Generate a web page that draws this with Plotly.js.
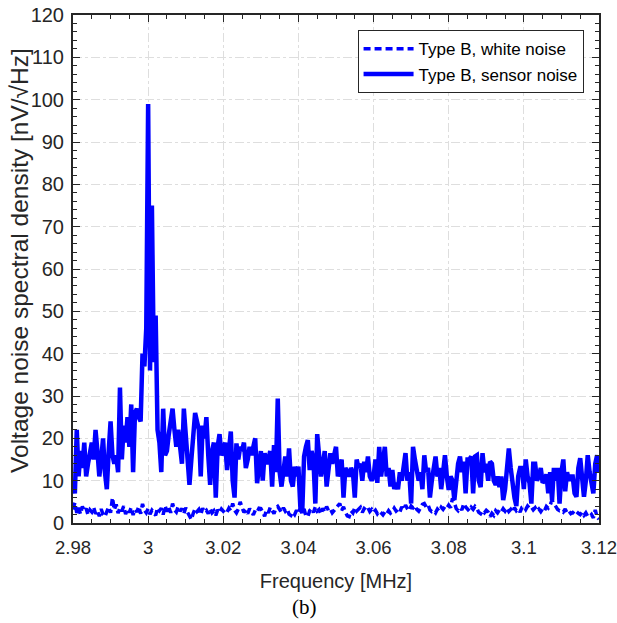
<!DOCTYPE html>
<html>
<head>
<meta charset="utf-8">
<script src="https://cdn.plot.ly/plotly-3.0.1.min.js"></script>
<style>html,body{margin:0;padding:0;background:#fff;}#chart{width:617px;height:623px;}</style>
</head>
<body>
<div id="chart"></div>
<script>
// Frequency grid (MHz)
var fStart = 2.98;
var fStep = 0.0005;

// Type B, sensor noise [nV/sqrt(Hz)]
var sensorNoise = [
  10, 7, 22, 11, 17, 13, 19, 11, 14, 16,
  19, 15, 22, 17, 11, 15, 20, 12, 8, 17,
  24, 16, 14, 16, 12, 32, 15, 23, 19, 25,
  18, 28, 12, 26, 27, 25, 24, 40, 37, 46,
  99, 36, 75, 38, 49, 22, 19, 12, 27, 16,
  17, 21, 24, 27, 22, 18, 22, 17, 14, 27,
  20, 15, 9, 15, 20, 26, 24, 22, 11, 23,
  20, 25, 16, 9, 17, 19, 6, 18, 21, 16,
  17, 19, 12.5, 16, 21.6, 10, 6, 18.8, 15, 18,
  17, 19, 13, 15, 18, 16, 18, 20, 9.4, 14,
  17, 10, 16.5, 14, 15, 17, 8.6, 18.4, 12, 29.4,
  12, 8.6, 13.3, 15.7, 11, 17.6, 10, 8.6, 13.3, 11,
  13.3, 3.9, 2.3, 15.7, 18, 19.6, 12.5, 17, 14.8, 4.6,
  21, 14, 11, 14, 17, 8.6, 12.5, 16.5, 14, 16.5,
  18, 11, 13, 15, 6, 13, 12, 11, 13, 12,
  6, 15, 13, 14, 10, 14.5, 12, 15.7, 11, 10,
  11, 15, 9.5, 18, 11, 14, 18, 11, 13, 8.6,
  12.5, 8, 9.5, 8, 12, 10, 14, 16.5, 10, 12,
  4.6, 18, 15, 12, 10, 12, 8, 16, 12, 13,
  6, 10, 13, 15.7, 11, 13, 8, 13, 16, 11,
  7.8, 11, 10, 5.4, 10, 14, 15.7, 12, 14.5, 7,
  15, 15, 15.7, 7, 15.7, 16, 10, 8.5, 16.5, 12,
  14, 10, 14.5, 14, 10, 9, 11, 8.5, 11, 5.4,
  8, 14, 17.6, 13, 8, 6, 4, 11, 13, 13,
  8, 15, 11, 9.5, 4.6, 14, 14, 10, 11, 13,
  9.5, 10, 11.5, 7, 12, 5.4, 13, 10, 13, 4.6,
  12, 15, 7.5, 12, 10, 11, 11, 7, 6.2, 13,
  15.3, 11, 6.2, 10, 16, 12, 9, 7, 14, 16, 12
];

// Type B, white noise [nV/sqrt(Hz)]
var whiteNoise = [
  3.2, 4.8, 2.4, 3.6, 2.1, 3.9, 2.8, 3.4, 1.9, 3.1,
  2.6, 3.7, 2.2, 2.9, 1.6, 3.3, 2.0, 1.5, 2.7, 3.8,
  2.4, 6.0, 3.1, 4.4, 2.3, 3.6, 2.8, 4.0, 2.1, 3.3,
  2.5, 3.7, 1.9, 3.2, 2.6, 3.9, 2.2, 4.5, 3.0, 2.4,
  3.4, 2.1, 3.0, 2.5, 1.8, 3.6, 2.9, 3.5, 2.0, 4.1,
  2.7, 3.8, 2.4, 4.6, 3.1, 2.6, 3.9, 2.8, 3.4, 2.2,
  3.6, 2.5, 1.5, 0.8, 2.3, 3.4, 2.7, 3.2, 2.0, 3.5,
  2.6, 3.0, 2.2, 3.4, 2.4, 2.9, 1.8, 3.1, 2.5, 3.3,
  2.8, 3.2, 2.6, 3.5, 2.9, 4.6, 3.0, 2.4, 3.3, 5.0,
  3.6, 2.5, 3.1, 2.2, 3.4, 2.8, 1.9, 3.0, 2.6, 3.5,
  3.4, 2.6, 1.6, 3.1, 2.4, 3.7, 2.9, 2.2, 3.5, 3.9,
  3.2, 2.5, 3.6, 2.8, 3.3, 2.1, 1.8, 2.6, 2.0, 3.0,
  2.3, 3.6, 2.7, 3.3, 1.6, 1.5, 2.9, 3.4, 2.5, 3.8,
  2.8, 3.2, 2.1, 3.5, 2.6, 3.9, 2.9, 3.3, 2.4, 3.0,
  3.3, 4.2, 4.6, 3.0, 3.8, 2.6, 1.7, 1.5, 2.9, 2.4,
  3.6, 2.8, 3.3, 3.7, 2.5, 3.4, 3.0, 3.6, 2.7, 3.2,
  2.5, 3.0, 2.2, 2.8, 2.4, 1.9, 2.6, 2.1, 2.9, 2.3,
  2.7, 3.5, 2.8, 3.2, 2.6, 3.8, 3.1, 4.2, 3.4, 2.9,
  4.0, 3.6, 4.1, 3.2, 2.8, 3.5, 4.4, 4.6, 3.8, 4.3,
  3.1, 2.7, 2.9, 2.4, 3.3, 2.8, 3.7, 3.2, 3.9, 3.5,
  4.2, 3.6, 5.8, 4.8, 3.4, 2.9, 3.6, 3.1, 4.6, 3.8,
  3.3, 2.8, 3.7, 3.2, 3.9, 3.4, 2.5, 2.2, 2.9, 2.4,
  3.0, 2.6, 1.5, 2.3, 1.8, 2.9, 2.4, 3.1, 2.6, 3.4,
  2.8, 3.5, 2.7, 3.2, 2.5, 3.6, 2.9, 3.3, 2.6, 3.7,
  3.9, 3.2, 4.0, 3.5, 3.8, 3.1, 3.6, 2.8, 3.3, 2.7,
  3.4, 2.9, 3.9, 3.5, 4.2, 5.4, 4.6, 3.8, 3.2, 2.9,
  3.0, 2.6, 3.3, 2.4, 2.8, 2.2, 2.5, 2.1, 2.7, 2.3,
  2.0, 2.6, 1.8, 2.4, 1.6, 1.5, 2.0, 1.2, 3.1, 1.4, 0.9
];

var xTickVals = [2.98, 3.00, 3.02, 3.04, 3.06, 3.08, 3.10, 3.12];
var xTickText = ['2.98', '3', '3.02', '3.04', '3.06', '3.08', '3.1', '3.12'];
var yTickVals = [0, 10, 20, 30, 40, 50, 60, 70, 80, 90, 100, 110, 120];

var freqW = whiteNoise.map(function(_, i){ return +(fStart + i*fStep).toFixed(5); });
var freqS = sensorNoise.map(function(_, i){ return +(fStart + i*fStep).toFixed(5); });

var SANS = '"Liberation Sans", Arial, Helvetica, sans-serif';
var INK = '#262626';

var traces = [
  {x: freqW, y: whiteNoise, type: 'scatter', mode: 'lines', name: 'Type B, white noise',
   line: {color: '#0000ff', width: 3.5, dash: '7px,4px'}},
  {x: freqS, y: sensorNoise, type: 'scatter', mode: 'lines', name: 'Type B, sensor noise',
   line: {color: '#0000ff', width: 4.5}}
];

var axisCommon = {
  showline: true, linecolor: INK, linewidth: 2, mirror: 'allticks',
  ticks: 'inside', ticklen: 7, tickwidth: 1, tickcolor: INK,
  showgrid: true, gridcolor: '#dedede', gridwidth: 1, griddash: 'dashdot',
  zeroline: false, ticklabeloverflow: 'allow'
};

var layout = {
  width: 617, height: 623,
  margin: {l: 73, r: 18, t: 15, b: 100},
  paper_bgcolor: '#ffffff', plot_bgcolor: '#ffffff',
  showlegend: true,
  xaxis: Object.assign({}, axisCommon, {
    range: [2.98, 3.12], tickmode: 'array', tickvals: xTickVals, ticktext: xTickText,
    ticklabelstandoff: 7,
    tickfont: {family: SANS, size: 18.5, color: INK},
    minor: {tick0: 2.98, dtick: 0.005, ticks: 'inside', ticklen: 4, tickcolor: INK, showgrid: false},
    title: {text: 'Frequency [MHz]', font: {family: SANS, size: 20, color: INK}, standoff: 17}
  }),
  yaxis: Object.assign({}, axisCommon, {
    range: [0, 120], tickmode: 'array', tickvals: yTickVals,
    ticklabelstandoff: 3,
    tickfont: {family: SANS, size: 20, color: INK},
    minor: {tick0: 0, dtick: 2, ticks: 'inside', ticklen: 4, tickcolor: INK, showgrid: false}
  }),
  legend: {
    x: 0.541, y: 0.97, xanchor: 'left', yanchor: 'top',
    bgcolor: '#ffffff', bordercolor: INK, borderwidth: 1,
    font: {family: SANS, size: 17, color: '#000000'},
    tracegroupgap: 0, itemwidth: 50
  },
  annotations: [
    {text: 'Voltage noise spectral density [nV/\u221AHz]', xref: 'paper', yref: 'paper',
     x: -0.1006, y: 0.516, xanchor: 'center', yanchor: 'middle', textangle: -90,
     showarrow: false, font: {family: SANS, size: 24.5, color: INK}},
    {text: '(b)', xref: 'paper', yref: 'paper', x: 0.44, y: -0.165, xanchor: 'center', yanchor: 'middle',
     showarrow: false, font: {family: '"Liberation Serif", "Times New Roman", serif', size: 21, color: '#000000'}}
  ]
};

Plotly.newPlot('chart', traces, layout, {displayModeBar: false, staticPlot: true});
</script>
</body>
</html>
